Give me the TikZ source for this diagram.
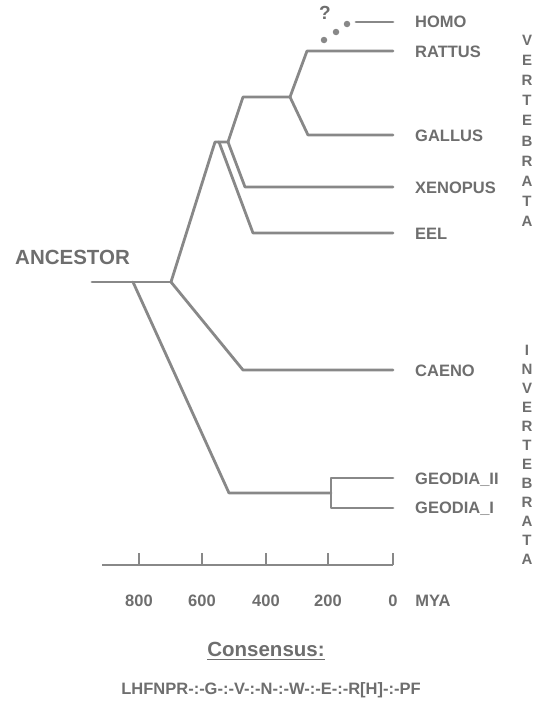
\documentclass[tikz,border=0pt]{standalone}
\usepackage{fontspec}
\setmainfont{Liberation Sans}
\definecolor{ln}{HTML}{888888}
\definecolor{tx}{HTML}{6E6E6E}
\begin{document}
\begin{tikzpicture}[x=1pt,y=-1pt,
  br/.style={draw=ln,line width=2.8pt,line join=round,line cap=round},
  ax/.style={draw=ln,line width=1.4pt},
  taxon/.style={anchor=west,inner sep=0pt,text=tx,font=\fontsize{16.5}{18}\selectfont\bfseries},
  tick/.style={inner sep=0pt,text=tx,font=\fontsize{16.5}{18}\selectfont\bfseries},
  vlet/.style={inner sep=0pt,text=tx,font=\fontsize{15}{16}\selectfont\bfseries},
  dotn/.style={circle,fill=ln,inner sep=0pt,minimum size=6.5pt}]
\useasboundingbox (0,0) rectangle (545,704);
% coordinates
\coordinate (r0) at (92,282);
\coordinate (r1) at (171,282);
\coordinate (rg) at (133,282);
\coordinate (g0) at (229,493);
\coordinate (g1) at (331,493);
\coordinate (g2) at (331,478);
\coordinate (g3) at (331,508);
\coordinate (g2e) at (393,478);
\coordinate (g3e) at (393,508);
\coordinate (c0) at (243,370);
\coordinate (c1) at (393,370);
\coordinate (a0) at (215,142);
\coordinate (a1) at (228,142);
\coordinate (a2) at (219,142);
\coordinate (m0) at (243,97);
\coordinate (m1) at (290,97);
\coordinate (x0) at (245,187);
\coordinate (x1) at (393,187);
\coordinate (e0) at (253,233);
\coordinate (e1) at (393,233);
\coordinate (rt0) at (307,51);
\coordinate (rt1) at (393,51);
\coordinate (ga0) at (308,135);
\coordinate (ga1) at (393,135);
\coordinate (h0) at (356,22);
\coordinate (h1) at (393,22);
% tree
\path[br] (r0) -- (r1);
\path[br] (rg) -- (g0) -- (g1);
\path[br] (g2e) -- (g2) -- (g3) -- (g3e);
\path[br] (r1) -- (a0) -- (a1);
\path[br] (r1) -- (c0) -- (c1);
\path[br] (a1) -- (m0) -- (m1);
\path[br] (a1) -- (x0) -- (x1);
\path[br] (a2) -- (e0) -- (e1);
\path[br] (m1) -- (rt0) -- (rt1);
\path[br] (m1) -- (ga0) -- (ga1);
\path[br] (h0) -- (h1);
\node[dotn] (d1) at (347,24) {};
\node[dotn] (d2) at (336,32) {};
\node[dotn] (d3) at (324,40) {};
\node[inner sep=0pt,text=tx,font=\fontsize{19}{20}\selectfont\bfseries] (q) at (325,13) {?};
% labels
\node[taxon] (lhomo) at (415,22) {HOMO};
\node[taxon] (lrat) at (415,52) {RATTUS};
\node[taxon] (lgal) at (415,136) {GALLUS};
\node[taxon] (lxen) at (415,188) {XENOPUS};
\node[taxon] (leel) at (415,234) {EEL};
\node[taxon] (lcae) at (415,371) {CAENO};
\node[taxon] (lg2) at (415,480) {GEODIA\_II};
\node[taxon] (lg1) at (415,509) {GEODIA\_I};
\node[anchor=west,inner sep=0pt,text=tx,font=\fontsize{20.5}{22}\selectfont\bfseries] (anc) at (15,257) {ANCESTOR};
% side words
\foreach \l [count=\i from 0] in {V,E,R,T,E,B,R,A,T,A}
  \node[vlet] (v\i) at (527,{40+20.2*\i}) {\l};
\foreach \l [count=\i from 0] in {I,N,V,E,R,T,E,B,R,A,T,A}
  \node[vlet] (iv\i) at (527,{350+19*\i}) {\l};
% axis
\coordinate (ax0) at (102,565);
\coordinate (ax1) at (393,565);
\path[ax] (ax0) -- (ax1);
\foreach \xx/\lab [count=\i] in {139/800,202/600,266/400,328/200,393/0}{
  \coordinate (t\i) at (\xx,565);
  \coordinate (tt\i) at (\xx,553);
  \path[ax] (t\i) -- (tt\i);
  \node[tick] (tl\i) at (\xx,601) {\lab};
}
\node[tick] (mya) at (433,601) {MYA};
% consensus
\node[inner sep=0pt,text=tx,font=\fontsize{20.5}{22}\selectfont\bfseries] (cons) at (266,649) {Consensus:};
\path[draw=tx,line width=1.3pt] ([yshift=-3pt]cons.south west) -- ([yshift=-3pt]cons.south east);
\node[inner sep=0pt,text=tx,font=\fontsize{16.5}{18}\selectfont\bfseries] (seq) at (271,690) {LHFNPR-:-G-:-V-:-N-:-W-:-E-:-R[H]-:-PF};
\end{tikzpicture}
\end{document}
